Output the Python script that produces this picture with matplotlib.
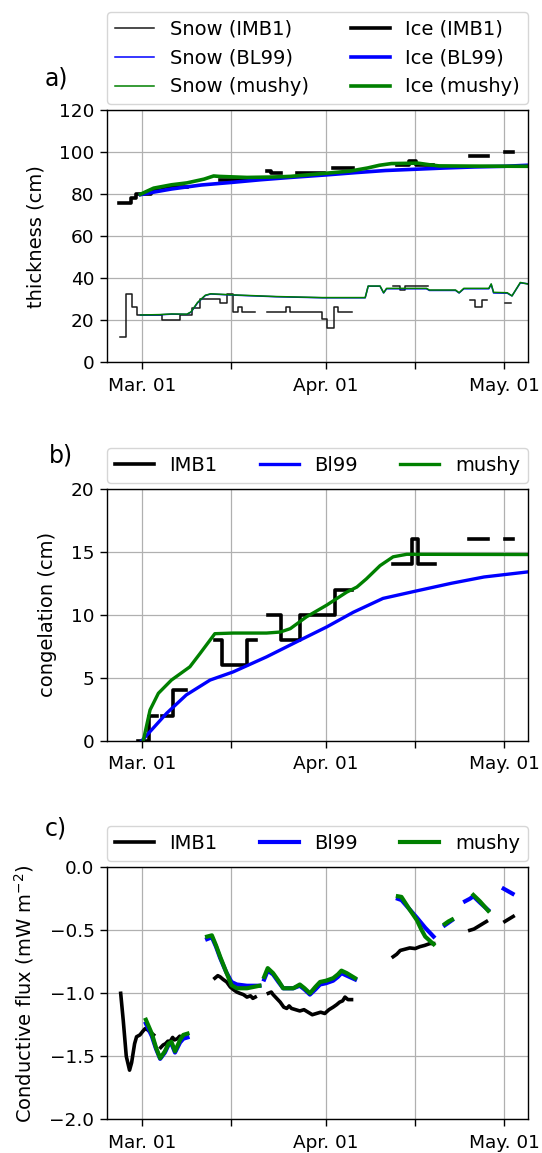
import matplotlib
matplotlib.use('Agg')
import matplotlib.pyplot as plt
import matplotlib.dates as mdates
import numpy as np
from datetime import datetime

nan = np.nan
BASE = mdates.date2num(datetime(2015, 3, 1))  # days below are "days since 1 March 2015"

# ---------------- panel a: thickness (cm) ----------------
snow_imb1_days = [-3.65, -2.64, -1.68, -0.85, 3.4, 6.4, 8.5, 9.8, 12.1, 13.2, 14.4, 15.3, 16.2, 16.9, 19.1,
                  21.1, 24.3, 25.0, 30.4, 31.2, 32.3, 33.1, 35.3,
                  42.3, 43.5, 44.3, 48.2,
                  55.2, 56.0, 57.2, 58.1,
                  61.1, 62.2]
snow_imb1_vals = [12.2, 32.4, 26.2, 22.5, 20.1, 22.5, 26.0, 30.0, 30.3, 28.4, 32.5, 24.1, 26.5, 24.1, nan,
                  24.1, 26.5, 24.1, 20.6, 16.2, 26.5, 24.1, nan,
                  36.3, 34.6, 36.3, nan,
                  29.7, 26.2, 29.7, nan,
                  28.4, nan]

snow_mushy_days = [-0.2, 3.0, 5.0, 7.6, 8.3, 9.4, 10.7, 11.6, 15.2, 22.6, 30.4, 37.6, 38.1, 40.1, 40.7, 41.2,
                   47.9, 48.4, 52.8, 53.4, 54.2, 58.4, 58.8, 59.2, 61.5, 62.3, 63.7, 64.9]
snow_mushy_vals = [22.5, 22.7, 23.0, 22.9, 24.0, 28.5, 31.9, 32.6, 32.1, 31.3, 30.8, 30.8, 36.3, 36.3, 33.1, 35.2,
                   35.2, 34.4, 34.4, 33.1, 35.2, 35.2, 37.3, 33.3, 33.1, 31.6, 38.0, 37.3]

snow_bl99_days = [-0.2, 3.0, 5.0, 7.6, 8.3, 9.4, 10.7, 11.6, 15.2, 22.6, 30.4, 37.6, 38.1, 40.1, 40.7, 41.2,
                  47.9, 48.4, 52.8, 53.4, 54.2, 58.4, 58.8, 59.2, 61.5, 62.3, 63.7, 64.9]
snow_bl99_vals = [22.4, 22.6, 22.9, 22.8, 23.9, 28.3, 31.8, 32.5, 32.0, 31.2, 30.7, 30.7, 36.2, 36.2, 33.0, 35.0,
                  35.0, 34.2, 34.2, 33.0, 35.0, 35.0, 37.1, 33.0, 32.9, 31.6, 37.8, 37.4]

ice_imb1_days = [-3.8, -1.75, -0.9, 1.5, 3.5, 7.6,
                 13.2, 17.7,
                 21.0, 21.8, 23.5,
                 26.1, 30.6,
                 32.2, 35.6,
                 43.0, 45.0, 46.2, 49.0,
                 55.2, 58.3,
                 61.1, 62.4]
ice_imb1_vals = [76.0, 78.0, 80.0, 82.0, 83.4, nan,
                 86.8, nan,
                 91.0, 90.3, nan,
                 90.0, nan,
                 92.4, nan,
                 94.0, 96.0, 94.0, nan,
                 98.4, nan,
                 100.0, nan]

ice_bl99_days = [-0.2, 2.0, 5.0, 10.0, 15.0, 20.0, 25.0, 31.0, 36.0, 41.0, 46.0, 51.0, 56.0, 61.0, 64.9]
ice_bl99_vals = [79.8, 81.0, 82.5, 84.4, 85.6, 86.9, 88.0, 89.2, 90.3, 91.3, 91.9, 92.5, 93.0, 93.3, 93.8]

ice_mushy_days = [-0.2, 1.0, 2.0, 5.0, 7.6, 10.5, 12.1, 13.0, 17.7, 22.0, 25.0, 31.0, 35.0, 38.0, 40.0,
                  42.0, 46.5, 48.5, 50.0, 55.0, 64.9]
ice_mushy_vals = [80.0, 81.6, 82.9, 84.5, 85.4, 87.2, 88.7, 88.5, 88.0, 88.2, 88.5, 90.0, 91.0, 92.5, 93.8,
                  94.6, 94.8, 94.0, 93.5, 93.4, 93.3]

# ---------------- panel b: congelation (cm) ----------------
cong_imb1_days = [-0.57, 1.3, 2.5, 3.35, 5.32, 7.45,
                  12.3, 13.5, 17.7, 19.3,
                  21.3, 23.5, 26.6, 32.5, 35.3,
                  42.2, 45.4, 46.5, 49.3,
                  55.1, 58.3,
                  61.1, 62.4]
cong_imb1_vals = [0.0, 2.0, nan, 2.0, 4.0, nan,
                  8.0, 6.0, 8.0, nan,
                  10.0, 8.0, 10.0, 12.0, nan,
                  14.0, 16.0, 14.0, nan,
                  16.0, nan,
                  16.0, nan]

cong_bl99_days = [0.0, 4.2, 7.5, 11.5, 15.4, 21.0, 26.6, 31.1, 35.6, 40.6, 46.3, 52.1, 57.6, 64.9]
cong_bl99_vals = [0.0, 2.19, 3.64, 4.82, 5.47, 6.66, 7.98, 9.03, 10.2, 11.3, 11.9, 12.5, 13.0, 13.4]

cong_mushy_days = [0.25, 1.4, 2.8, 5.0, 8.1, 9.8, 12.3, 15.4, 21.0, 23.3, 25.0, 27.7, 31.1, 34.5, 36.2,
                   37.8, 40.1, 42.3, 44.6, 64.9]
cong_mushy_vals = [0.0, 2.45, 3.77, 4.82, 5.87, 6.92, 8.5, 8.55, 8.55, 8.63, 8.9, 9.83, 10.76, 11.8, 12.2,
                   12.85, 13.9, 14.6, 14.8, 14.78]

# ---------------- panel c: conductive flux ----------------
flux_imb1_days = [-3.54, -3.1, -2.6, -2.05, -1.7, -1.2, -0.87, -0.3, 0.2, 0.57, 1.0, 1.5, 2.0, 2.3,
                  3.2, 3.6, 4.0, 4.4, 4.8, 5.2, 5.5, 6.0, 6.4, 6.7, 7.0,
                  12.3, 12.8, 13.2, 13.7, 14.3, 14.9, 15.4, 16.0, 16.5, 17.1, 17.7, 18.3, 18.7, 19.1, 19.3,
                  21.3, 21.8, 22.1, 22.7, 23.3, 23.9, 24.4, 24.8, 25.2, 25.9, 26.6, 27.3, 28.0, 28.7, 29.4,
                  30.1, 30.8, 31.5, 32.2, 32.8, 33.3, 33.8, 34.2, 34.7, 35.3, 35.5,
                  42.3, 42.9, 43.5, 44.3, 45.1, 46.0, 46.8, 47.6, 48.5, 49.1, 49.3,
                  55.2, 55.9, 56.6, 57.3, 58.0, 58.2,
                  61.1, 61.8, 62.5]
flux_imb1_vals = [-1.00, -1.22, -1.50, -1.61, -1.55, -1.40, -1.345, -1.33, -1.30, -1.28, -1.29, -1.31, -1.33, nan,
                  -1.43, -1.41, -1.40, -1.38, -1.38, -1.35, -1.37, -1.36, -1.34, -1.35, nan,
                  -0.88, -0.86, -0.87, -0.89, -0.91, -0.95, -0.97, -0.99, -1.00, -1.01, -1.03, -1.02, -1.04, -1.03, nan,
                  -1.00, -0.99, -1.01, -1.04, -1.07, -1.11, -1.12, -1.10, -1.12, -1.13, -1.14, -1.13, -1.15, -1.17, -1.16,
                  -1.15, -1.16, -1.13, -1.11, -1.09, -1.07, -1.06, -1.03, -1.05, -1.05, nan,
                  -0.71, -0.69, -0.66, -0.65, -0.64, -0.645, -0.63, -0.62, -0.605, -0.605, nan,
                  -0.50, -0.49, -0.47, -0.45, -0.43, nan,
                  -0.43, -0.41, -0.39]

flux_bl99_days = [0.7, 1.7, 2.4, 3.1, 3.9, 4.5, 5.0, 5.6, 6.45, 7.0, 7.7, 7.8,
                  11.0, 11.8, 12.5, 13.2, 14.2, 15.1, 16.0, 17.7, 19.8, 20.0,
                  20.6, 21.2, 22.1, 23.0, 23.8, 25.5, 26.6, 27.4, 28.3, 29.2, 30.0, 31.0, 32.2, 33.0, 33.6, 34.5,
                  35.9, 36.0,
                  43.1, 43.7, 45.0, 46.3, 47.7, 49.1, 49.2,
                  51.0, 51.6, 52.2, 52.3,
                  54.4, 55.2, 55.8, 56.9, 58.3, 58.4,
                  60.9, 62.4]
flux_bl99_vals = [-1.24, -1.34, -1.44, -1.52, -1.47, -1.41, -1.40, -1.47, -1.39, -1.36, -1.35, nan,
                  -0.57, -0.555, -0.63, -0.72, -0.83, -0.91, -0.93, -0.94, -0.94, nan,
                  -0.89, -0.82, -0.85, -0.91, -0.96, -0.96, -0.94, -0.97, -1.01, -0.97, -0.93, -0.92, -0.90, -0.87,
                  -0.84, -0.86, -0.89, nan,
                  -0.25, -0.26, -0.33, -0.40, -0.48, -0.55, nan,
                  -0.46, -0.44, -0.42, nan,
                  -0.27, -0.25, -0.23, -0.28, -0.34, nan,
                  -0.17, -0.21]

flux_mushy_days = [0.7, 1.7, 2.4, 3.1, 3.9, 4.5, 5.0, 5.6, 6.45, 7.0, 7.7, 7.8,
                   11.0, 11.8, 12.5, 13.2, 14.2, 15.1, 16.0, 17.7, 19.8, 20.0,
                   20.6, 21.2, 22.1, 23.0, 23.8, 25.5, 26.6, 27.4, 28.3, 29.2, 30.0, 31.0, 32.2, 33.0, 33.6, 34.5,
                   35.9, 36.0,
                   43.1, 43.7, 45.0, 46.3, 47.0, 47.7, 49.1, 49.2,
                   51.0, 51.6, 52.2, 52.3,
                   55.8, 56.9, 58.3]
flux_mushy_vals = [-1.21, -1.32, -1.43, -1.515, -1.46, -1.40, -1.385, -1.46, -1.37, -1.33, -1.32, nan,
                   -0.55, -0.54, -0.62, -0.71, -0.83, -0.935, -0.96, -0.96, -0.94, nan,
                   -0.87, -0.80, -0.84, -0.90, -0.96, -0.96, -0.93, -0.96, -1.00, -0.95, -0.91, -0.90, -0.88, -0.85,
                   -0.82, -0.84, -0.88, nan,
                   -0.23, -0.235, -0.33, -0.42, -0.49, -0.55, -0.61, nan,
                   -0.45, -0.43, -0.415, nan,
                   -0.22, -0.27, -0.345]

# ---------------- axis ticks ----------------
tick_dates = [datetime(2015, 3, 1), datetime(2015, 3, 16), datetime(2015, 4, 1),
              datetime(2015, 4, 16), datetime(2015, 5, 1)]
tick_labels = ['Mar. 01', '', 'Apr. 01', '', 'May. 01']
xlim_days = [-5.79, 64.94]


def X(days):
    return BASE + np.asarray(days, dtype=float)


TICK_FS = 13.3
LAB_FS = 14
LEG_FS = 14
PANEL_FS = 17

plt.rcParams.update({
    'xtick.labelsize': TICK_FS, 'ytick.labelsize': TICK_FS,
    'xtick.major.size': 5, 'ytick.major.size': 5,
    'xtick.major.width': 1.0, 'ytick.major.width': 1.0,
    'xtick.major.pad': 5.5, 'ytick.major.pad': 4.3,
    'axes.linewidth': 1.0,
    'grid.color': '#b0b0b0', 'grid.linewidth': 0.9,
})

fig = plt.figure(figsize=(5.42, 11.53), dpi=100)
left, width, height = 0.198, 0.7756, 0.2186
ax_a = fig.add_axes([left, 0.6858, width, height])
ax_b = fig.add_axes([left, 0.3575, width, height])
ax_c = fig.add_axes([left, 0.0292, width, height])

for ax in (ax_a, ax_b, ax_c):
    ax.set_xlim(X(xlim_days))
    ax.set_xticks(mdates.date2num(tick_dates))
    ax.set_xticklabels(tick_labels, fontsize=TICK_FS)
    ax.grid(True)
    ax.set_axisbelow(True)

# panel a
ax_a.plot(X(snow_imb1_days), snow_imb1_vals, color='#1a1a1a', lw=1.1, drawstyle='steps-post', label='Snow (IMB1)')
ax_a.plot(X(snow_bl99_days), snow_bl99_vals, color='blue', lw=1.1, label='Snow (BL99)')
ax_a.plot(X(snow_mushy_days), snow_mushy_vals, color='green', lw=1.1, label='Snow (mushy)')
ax_a.plot(X(ice_imb1_days), ice_imb1_vals, color='k', lw=2.6, drawstyle='steps-post', label='Ice (IMB1)')
ax_a.plot(X(ice_bl99_days), ice_bl99_vals, color='blue', lw=2.6, label='Ice (BL99)')
ax_a.plot(X(ice_mushy_days), ice_mushy_vals, color='green', lw=2.6, label='Ice (mushy)')
ax_a.set_ylim(0, 120)
ax_a.set_yticks(np.arange(0, 121, 20))
ax_a.set_ylabel('thickness (cm)', fontsize=LAB_FS, labelpad=10)
ax_a.legend(ncol=2, loc='lower left', bbox_to_anchor=(0, 1.024, 1, 0.2), mode='expand',
            borderaxespad=0, fontsize=LEG_FS)
ax_a.text(-0.148, 1.127, 'a)', transform=ax_a.transAxes, fontsize=PANEL_FS, ha='left', va='center')

# panel b
ax_b.plot(X(cong_imb1_days), cong_imb1_vals, color='k', lw=2.6, drawstyle='steps-post', label='IMB1')
ax_b.plot(X(cong_bl99_days), cong_bl99_vals, color='blue', lw=2.4, label='Bl99')
ax_b.plot(X(cong_mushy_days), cong_mushy_vals, color='green', lw=2.4, label='mushy')
ax_b.set_ylim(0, 20)
ax_b.set_yticks(np.arange(0, 21, 5))
ax_b.set_ylabel('congelation (cm)', fontsize=LAB_FS, labelpad=10)
ax_b.legend(ncol=3, loc='lower left', bbox_to_anchor=(0, 1.024, 1, 0.2), mode='expand',
            borderaxespad=0, fontsize=LEG_FS)
ax_b.text(-0.14, 1.132, 'b)', transform=ax_b.transAxes, fontsize=PANEL_FS, ha='left', va='center')

# panel c
ax_c.plot(X(flux_imb1_days), flux_imb1_vals, color='k', lw=2.6, label='IMB1')
ax_c.plot(X(flux_bl99_days), flux_bl99_vals, color='blue', lw=3.0, label='Bl99')
ax_c.plot(X(flux_mushy_days), flux_mushy_vals, color='green', lw=3.0, label='mushy')
ax_c.set_ylim(-2.0, 0.0)
ax_c.set_yticks(np.arange(-2.0, 0.01, 0.5))
ax_c.set_ylabel('Conductive flux (mW m$^{-2}$)', fontsize=LAB_FS, labelpad=10)
ax_c.legend(ncol=3, loc='lower left', bbox_to_anchor=(0, 1.025, 1, 0.2), mode='expand',
            borderaxespad=0, fontsize=LEG_FS)
ax_c.text(-0.148, 1.152, 'c)', transform=ax_c.transAxes, fontsize=PANEL_FS, ha='left', va='center')

fig.savefig('out.png', dpi=100)
